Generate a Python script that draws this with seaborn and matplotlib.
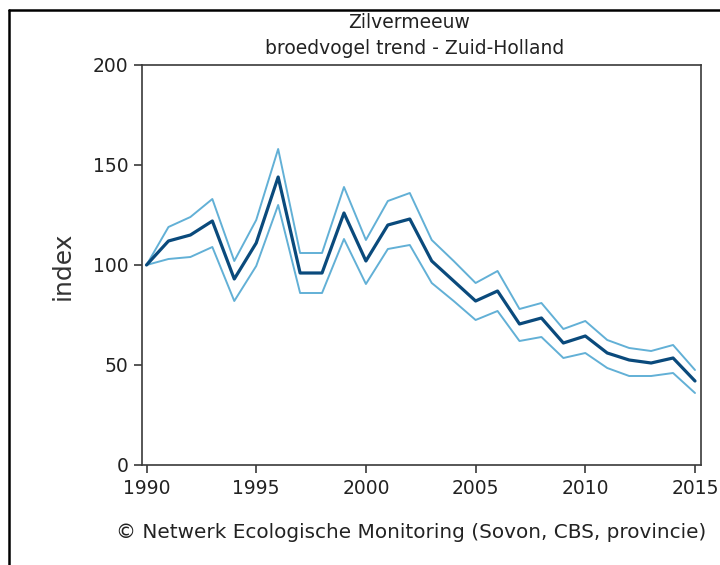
import pandas as pd
import matplotlib.pyplot as plt
from matplotlib.lines import Line2D
import seaborn as sns

# Data
years = list(range(1990, 2016))
index_mid = [100, 112, 115, 122, 93, 111, 144, 96, 96, 126, 102, 120, 123,
             102, 92, 82, 87, 70.5, 73.5, 61, 64.5, 56, 52.5, 51, 53.5, 42]
index_upper = [100, 119, 124, 133, 102, 122.5, 158, 106, 106, 139, 112.5, 132, 136,
               112.5, 102, 91, 97, 78, 81, 68, 72, 62.5, 58.5, 57, 60, 47.5]
index_lower = [100, 103, 104, 109, 82, 99.5, 130, 86, 86, 113, 90.5, 108, 110,
               91, 82, 72.5, 77, 62, 64, 53.5, 56, 48.5, 44.5, 44.5, 46, 36]

title_lines = ["Zilvermeeuw", "broedvogel trend - Zuid-Holland"]
y_label = "index"
credit = "\u00a9 Netwerk Ecologische Monitoring (Sovon, CBS, provincie)"

df = pd.DataFrame({"jaar": years, "mid": index_mid,
                   "upper": index_upper, "lower": index_lower})

sns.set_theme(style="white")
plt.rcParams['font.family'] = ['DejaVu Sans']

W, H = 720, 565
fig = plt.figure(figsize=(W / 100, H / 100), dpi=100)
ax = fig.add_axes([141.7 / W, 1 - 465 / H, (700.7 - 141.7) / W, 400 / H])

light = "#62b0d6"
dark = "#0a4a7c"
sns.lineplot(data=df, x="jaar", y="upper", ax=ax, color=light, linewidth=1.4)
sns.lineplot(data=df, x="jaar", y="lower", ax=ax, color=light, linewidth=1.4)
sns.lineplot(data=df, x="jaar", y="mid", ax=ax, color=dark, linewidth=2.3)

ax.set_xlim(1989.78, 2015.26)
ax.set_ylim(0, 200)
ax.set_xticks([1990, 1995, 2000, 2005, 2010, 2015])
ax.set_yticks([0, 50, 100, 150, 200])
ax.set_xlabel("")
ax.set_ylabel("")

spine_col = "#3a3a3a"
for s in ax.spines.values():
    s.set_color(spine_col)
    s.set_linewidth(1.2)
ax.tick_params(axis="both", direction="out", length=6, width=1.2,
               color=spine_col, labelsize=13.5, labelcolor="#222222")
ax.tick_params(axis="x", pad=4, bottom=True)
ax.tick_params(axis="y", pad=3.5, left=True)

# titles and labels
fig.text(409 / W, 1 - 22 / H, title_lines[0], ha="center", va="center",
         fontsize=13.5, color="#222222")
fig.text(415 / W, 1 - 49 / H, title_lines[1], ha="center", va="center",
         fontsize=13.5, color="#222222")
fig.text(62.5 / W, 1 - 266 / H, y_label, ha="center", va="center",
         rotation=90, fontsize=18, color="#333333")
fig.text(411 / W, 1 - 532 / H, credit, ha="center", va="center",
         fontsize=14.4, color="#222222")

# screenshot frame (left and top edges)
fig.add_artist(Line2D([8.5 / W, 8.5 / W], [0, 1 - 10 / H], transform=fig.transFigure,
                      color="black", linewidth=1.8))
fig.add_artist(Line2D([8.5 / W, 1], [1 - 10 / H, 1 - 10 / H], transform=fig.transFigure,
                      color="black", linewidth=1.8))

fig.savefig("out.png", dpi=100)
